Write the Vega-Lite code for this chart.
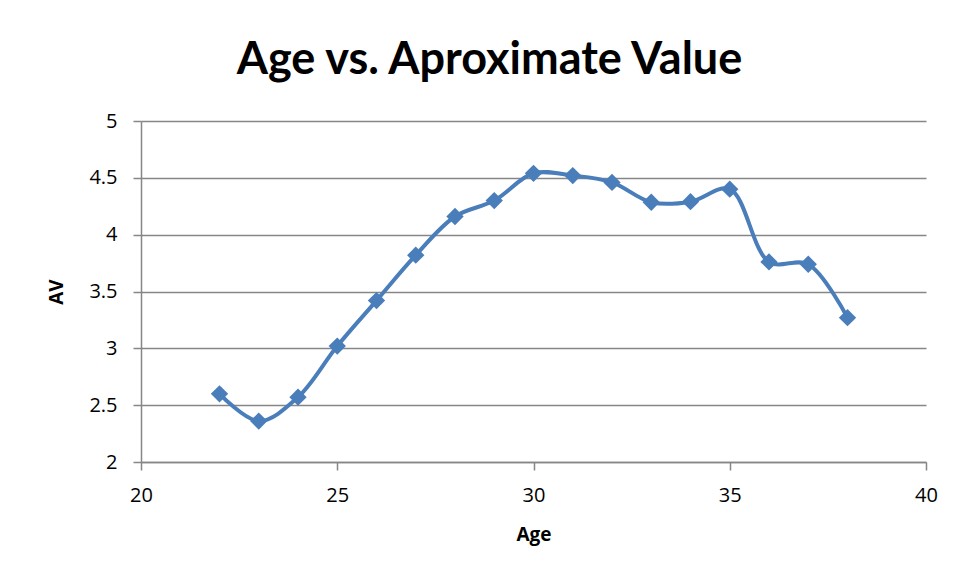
{
  "$schema": "https://vega.github.io/schema/vega-lite/v6.json",
  "width": 785,
  "height": 341,
  "autosize": "none",
  "padding": {"left": 141, "top": 121, "right": 32, "bottom": 121},
  "background": "white",
  "title": {
    "text": "Age vs. Aproximate Value",
    "font": "Lato",
    "fontSize": 45,
    "fontWeight": "bold",
    "color": "black",
    "anchor": "middle",
    "frame": "group",
    "dx": -44,
    "baseline": "alphabetic",
    "offset": -8
  },
  "data": {
    "values": [
      {"Age": 22, "AV": 2.60},
      {"Age": 23, "AV": 2.36},
      {"Age": 24, "AV": 2.57},
      {"Age": 25, "AV": 3.02},
      {"Age": 26, "AV": 3.42},
      {"Age": 27, "AV": 3.82},
      {"Age": 28, "AV": 4.16},
      {"Age": 29, "AV": 4.30},
      {"Age": 30, "AV": 4.54},
      {"Age": 31, "AV": 4.52},
      {"Age": 32, "AV": 4.46},
      {"Age": 33, "AV": 4.285},
      {"Age": 34, "AV": 4.29},
      {"Age": 35, "AV": 4.40},
      {"Age": 36, "AV": 3.76},
      {"Age": 37, "AV": 3.74},
      {"Age": 38, "AV": 3.27}
    ]
  },
  "config": {
    "view": {"stroke": null},
    "axis": {
      "labelFont": "Open Sans",
      "titleFont": "Open Sans",
      "labelColor": "black",
      "titleColor": "black",
      "labelFontSize": 20,
      "titleFontSize": 19,
      "titleFontWeight": "bold",
      "labelFlush": false,
      "labelOverlap": false,
      "domainColor": "#868686",
      "domainWidth": 1.5,
      "tickColor": "#868686",
      "tickWidth": 1.5,
      "gridColor": "#868686",
      "gridWidth": 1.5
    }
  },
  "encoding": {
    "x": {
      "field": "Age",
      "type": "quantitative",
      "scale": {"domain": [20, 40], "nice": false, "zero": false},
      "axis": {"values": [20, 25, 30, 35, 40], "format": "~g", "grid": false, "tickSize": 8, "labelPadding": 15, "title": "Age", "titlePadding": 20}
    },
    "y": {
      "field": "AV",
      "type": "quantitative",
      "scale": {"domain": [2, 5], "nice": false, "zero": false},
      "axis": {"values": [2, 2.5, 3, 3.5, 4, 4.5, 5], "format": "~g", "grid": true, "tickSize": 8, "labelPadding": 16, "title": "AV", "titlePadding": 22}
    }
  },
  "layer": [
    {
      "mark": {"type": "line", "interpolate": "catmull-rom", "color": "#4A7EBB", "strokeWidth": 4}
    },
    {
      "mark": {"type": "point", "shape": "diamond", "filled": true, "color": "#4A7EBB", "opacity": 1, "size": 300}
    }
  ]
}
